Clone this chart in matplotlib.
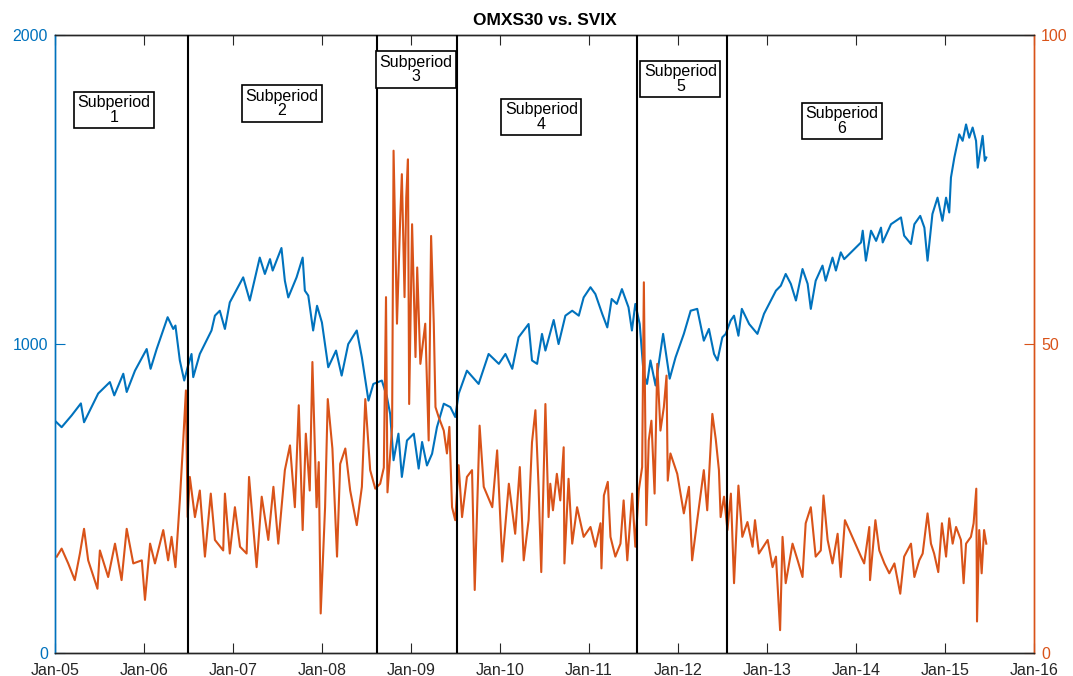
import numpy as np
import matplotlib
matplotlib.use('Agg')
import matplotlib.pyplot as plt
import matplotlib.dates as mdates
import pandas as pd

plt.rcParams['font.family'] = ['Liberation Sans', 'DejaVu Sans']

# OMXS30 index level (left axis)
omx_dates = [
    '2005-01-03', '2005-01-28', '2005-03-10', '2005-04-17', '2005-04-30', '2005-06-27', '2005-08-14',
    '2005-09-01', '2005-10-08', '2005-10-22', '2005-11-25', '2006-01-12', '2006-01-28', '2006-02-22',
    '2006-04-08', '2006-05-01', '2006-05-10', '2006-05-28', '2006-06-15', '2006-06-29', '2006-07-15',
    '2006-07-22', '2006-08-18', '2006-10-05', '2006-10-19', '2006-11-08', '2006-11-29', '2006-12-19',
    '2007-02-12', '2007-03-11', '2007-04-21', '2007-05-12', '2007-06-02', '2007-06-13', '2007-07-19',
    '2007-08-02', '2007-08-16', '2007-09-19', '2007-10-14', '2007-10-23', '2007-11-06', '2007-11-26',
    '2007-12-12', '2008-01-01', '2008-01-27', '2008-02-28', '2008-03-22', '2008-04-18', '2008-05-23',
    '2008-06-13', '2008-07-10', '2008-07-30', '2008-09-03', '2008-09-24', '2008-10-07', '2008-10-21',
    '2008-11-10', '2008-11-24', '2008-12-15', '2009-01-12', '2009-02-01', '2009-02-15', '2009-03-07',
    '2009-03-28', '2009-04-17', '2009-05-15', '2009-06-11', '2009-07-01', '2009-07-15', '2009-08-18',
    '2009-10-05', '2009-11-15', '2009-12-27', '2010-01-23', '2010-02-20', '2010-03-18', '2010-04-28',
    '2010-05-12', '2010-06-02', '2010-06-22', '2010-07-06', '2010-08-09', '2010-08-29', '2010-09-26',
    '2010-10-24', '2010-11-20', '2010-12-10', '2011-01-07', '2011-01-27', '2011-02-24', '2011-03-17',
    '2011-04-04', '2011-04-25', '2011-05-16', '2011-06-12', '2011-06-26', '2011-07-10', '2011-07-28',
    '2011-08-13', '2011-08-27', '2011-09-10', '2011-10-01', '2011-11-01', '2011-11-28', '2011-12-22',
    '2012-01-25', '2012-02-22', '2012-03-20', '2012-04-16', '2012-05-07', '2012-05-28', '2012-06-11',
    '2012-07-01', '2012-07-15', '2012-08-04', '2012-08-18', '2012-09-05', '2012-09-19', '2012-10-19',
    '2012-11-22', '2012-12-19', '2013-01-09', '2013-02-06', '2013-02-26', '2013-03-18', '2013-04-08',
    '2013-04-29', '2013-05-26', '2013-06-16', '2013-06-29', '2013-07-19', '2013-08-16', '2013-08-29',
    '2013-09-26', '2013-10-10', '2013-10-30', '2013-11-13', '2014-01-21', '2014-01-28', '2014-02-10',
    '2014-03-03', '2014-03-24', '2014-04-13', '2014-04-20', '2014-05-24', '2014-07-04', '2014-07-17',
    '2014-08-14', '2014-08-28', '2014-09-21', '2014-10-08', '2014-10-21', '2014-11-10', '2014-12-01',
    '2014-12-21', '2015-01-05', '2015-01-18', '2015-01-25', '2015-02-08', '2015-02-28', '2015-03-14',
    '2015-03-28', '2015-04-10', '2015-04-24', '2015-05-08', '2015-05-15', '2015-05-25', '2015-06-04',
    '2015-06-13', '2015-06-19']
omx_vals = [
    750, 731, 769, 808, 747, 840, 877,
    834, 904, 845, 914, 984, 920, 984,
    1087, 1049, 1060, 947, 882, 925, 968,
    893, 968, 1044, 1092, 1108, 1049, 1135,
    1216, 1141, 1280, 1227, 1275, 1238, 1311,
    1205, 1151, 1216, 1280, 1173, 1157, 1044,
    1124, 1070, 925, 979, 898, 1000, 1044,
    957, 817, 871, 882, 828, 774, 624,
    710, 570, 688, 710, 597, 683, 607,
    645, 731, 807, 796, 764, 839, 914,
    871, 968, 936, 968, 920, 1022, 1065,
    947, 936, 1033, 979, 1078, 1000, 1092,
    1108, 1092, 1151, 1184, 1162, 1098, 1054,
    1146, 1130, 1178, 1119, 1044, 1130, 1065,
    904, 871, 947, 866, 1033, 888, 957,
    1033, 1108, 1114, 1011, 1049, 968, 947,
    1022, 1033, 1076, 1092, 1027, 1114, 1065,
    1033, 1098, 1130, 1173, 1189, 1227, 1195,
    1141, 1243, 1195, 1114, 1205, 1254, 1205,
    1280, 1238, 1297, 1275, 1329, 1367, 1270,
    1367, 1334, 1377, 1329, 1388, 1410, 1351,
    1324, 1388, 1415, 1377, 1270, 1421, 1474,
    1399, 1474, 1426, 1539, 1604, 1679, 1658,
    1711, 1668, 1701, 1658, 1571, 1625, 1674,
    1593, 1604]

# SVIX volatility index (right axis)
svix_dates = [
    '2005-01-08', '2005-01-28', '2005-02-24', '2005-03-23', '2005-04-13', '2005-04-30', '2005-05-17',
    '2005-06-24', '2005-07-04', '2005-08-07', '2005-09-04', '2005-10-01', '2005-10-22', '2005-11-18',
    '2005-12-23', '2006-01-05', '2006-01-26', '2006-02-15', '2006-03-21', '2006-04-10', '2006-04-24',
    '2006-05-10', '2006-05-28', '2006-06-11', '2006-06-22', '2006-06-29', '2006-07-08', '2006-07-29',
    '2006-08-18', '2006-09-08', '2006-10-02', '2006-10-19', '2006-11-22', '2006-11-29', '2006-12-19',
    '2007-01-09', '2007-01-30', '2007-02-26', '2007-03-08', '2007-04-08', '2007-04-29', '2007-05-26',
    '2007-06-16', '2007-07-06', '2007-08-02', '2007-08-23', '2007-09-12', '2007-09-28', '2007-10-14',
    '2007-10-27', '2007-11-12', '2007-11-23', '2007-12-10', '2007-12-19', '2007-12-27', '2008-01-14',
    '2008-01-25', '2008-02-13', '2008-03-03', '2008-03-16', '2008-04-06', '2008-04-26', '2008-05-23',
    '2008-06-13', '2008-06-27', '2008-07-17', '2008-08-07', '2008-08-27', '2008-09-11', '2008-09-20',
    '2008-09-26', '2008-10-15', '2008-10-21', '2008-11-04', '2008-11-17', '2008-11-24', '2008-12-05',
    '2008-12-12', '2008-12-19', '2008-12-24', '2009-01-05', '2009-01-19', '2009-01-26', '2009-02-08',
    '2009-02-28', '2009-03-14', '2009-03-24', '2009-04-04', '2009-04-11', '2009-04-24', '2009-05-15',
    '2009-05-28', '2009-06-07', '2009-06-18', '2009-07-01', '2009-07-15', '2009-07-29', '2009-08-18',
    '2009-09-08', '2009-09-19', '2009-10-09', '2009-10-26', '2009-11-30', '2009-12-20', '2010-01-10',
    '2010-02-06', '2010-03-04', '2010-03-23', '2010-04-08', '2010-04-28', '2010-05-12', '2010-05-26',
    '2010-06-08', '2010-06-19', '2010-07-06', '2010-07-19', '2010-07-26', '2010-08-06', '2010-08-22',
    '2010-09-05', '2010-09-19', '2010-09-22', '2010-10-09', '2010-10-24', '2010-11-13', '2010-12-10',
    '2011-01-07', '2011-01-27', '2011-02-17', '2011-02-21', '2011-03-03', '2011-03-19', '2011-03-30',
    '2011-04-19', '2011-05-10', '2011-05-23', '2011-06-07', '2011-06-27', '2011-07-10', '2011-07-24',
    '2011-08-07', '2011-08-14', '2011-08-24', '2011-09-03', '2011-09-14', '2011-09-27', '2011-10-08',
    '2011-10-21', '2011-11-04', '2011-11-15', '2011-11-20', '2011-12-01', '2011-12-29', '2012-01-25',
    '2012-02-15', '2012-02-28', '2012-03-20', '2012-04-16', '2012-04-30', '2012-05-21', '2012-06-04',
    '2012-06-17', '2012-06-24', '2012-07-08', '2012-07-22', '2012-08-05', '2012-08-18', '2012-09-05',
    '2012-09-21', '2012-10-12', '2012-11-02', '2012-11-12', '2012-11-28', '2013-01-03', '2013-01-23',
    '2013-02-06', '2013-02-23', '2013-03-05', '2013-03-18', '2013-04-15', '2013-05-06', '2013-05-26',
    '2013-06-08', '2013-06-29', '2013-07-19', '2013-08-09', '2013-08-20', '2013-09-06', '2013-09-26',
    '2013-10-17', '2013-10-30', '2013-11-16', '2014-01-21', '2014-02-03', '2014-02-24', '2014-02-27',
    '2014-03-21', '2014-04-06', '2014-04-27', '2014-05-17', '2014-06-07', '2014-07-01', '2014-07-17',
    '2014-08-14', '2014-08-28', '2014-09-17', '2014-10-01', '2014-10-21', '2014-11-04', '2014-11-17',
    '2014-12-04', '2014-12-19', '2015-01-05', '2015-01-18', '2015-02-01', '2015-02-15', '2015-03-07',
    '2015-03-18', '2015-03-28', '2015-04-17', '2015-04-28', '2015-05-09', '2015-05-12', '2015-05-21',
    '2015-05-31', '2015-06-10', '2015-06-19']
svix_vals = [
    15.6, 16.9, 14.5, 11.8, 16.1, 20.1, 15.0,
    10.4, 16.6, 12.3, 17.7, 11.8, 20.1, 14.5,
    15.0, 8.6, 17.7, 14.5, 19.9, 15.0, 18.8,
    13.9, 24.7, 34.4, 42.5, 22.0, 28.5, 22.0,
    26.3, 15.6, 25.8, 18.3, 16.6, 25.8, 16.1,
    23.6, 17.2, 16.1, 28.5, 13.9, 25.3, 18.3,
    26.9, 17.7, 29.6, 33.6, 23.6, 40.1, 19.9,
    35.5, 26.3, 47.1, 23.6, 30.9, 6.4, 23.6,
    41.1, 33.1, 15.6, 30.6, 33.1, 26.3, 20.7,
    26.9, 41.1, 29.6, 26.6, 27.4, 30.0, 57.6,
    26.0, 36.6, 81.3, 53.3, 70.0, 77.5, 57.6,
    73.7, 79.9, 40.3, 69.4, 47.9, 62.4, 46.8,
    53.3, 34.4, 67.5, 53.3, 39.8, 38.2, 36.0,
    32.3, 36.6, 23.6, 21.5, 30.4, 22.0, 28.5,
    29.6, 10.2, 36.8, 26.9, 23.6, 32.8, 14.8,
    27.4, 19.3, 30.1, 15.0, 21.5, 34.1, 39.3,
    26.9, 13.1, 40.3, 22.0, 27.4, 23.1, 29.0,
    24.7, 33.3, 14.5, 28.2, 17.7, 23.6, 18.8,
    20.4, 17.2, 21.0, 13.7, 25.5, 27.7, 18.8,
    15.6, 17.7, 24.7, 15.0, 25.8, 17.2, 26.3,
    30.1, 60.0, 20.7, 34.4, 37.6, 25.8, 46.8,
    36.0, 39.8, 44.9, 27.9, 32.3, 29.0, 22.6,
    26.9, 15.0, 21.5, 29.6, 23.1, 38.7, 34.6,
    29.6, 22.0, 25.3, 19.9, 25.8, 11.3, 27.1,
    18.8, 21.2, 17.2, 21.5, 16.1, 18.3, 13.9,
    15.6, 3.7, 18.8, 11.3, 17.7, 15.0, 12.3,
    21.0, 23.6, 15.6, 16.6, 25.5, 18.3, 14.5,
    19.3, 12.3, 21.5, 15.6, 14.5, 20.4, 11.8,
    21.5, 16.6, 14.5, 12.9, 14.5, 9.6, 15.6,
    17.7, 12.3, 15.0, 16.1, 22.6, 17.7, 16.1,
    13.1, 21.0, 15.6, 21.8, 17.7, 20.4, 18.3,
    11.3, 17.7, 18.8, 21.0, 26.6, 5.1, 19.9,
    12.9, 19.9, 17.7]

# subperiod boundaries and labels
breaks = ['2006-07-01', '2008-08-13', '2009-07-08', '2011-07-17', '2012-07-19']
sub_labels = ['Subperiod\n1', 'Subperiod\n2', 'Subperiod\n3', 'Subperiod\n4', 'Subperiod\n5', 'Subperiod\n6']
sub_pos = [(0.060, 0.879), (0.2317, 0.8895), (0.3684, 0.9447), (0.4967, 0.8678), (0.6387, 0.9291), (0.8039, 0.8608)]

blue = '#0072BD'
orange = '#D95319'
dark = '#262626'

fig = plt.figure(figsize=(10.73, 6.76), dpi=100)
ax = fig.add_axes([0.0513, 0.034, 0.9124, 0.914])
ax2 = ax.twinx()

ax.plot(pd.to_datetime(omx_dates), omx_vals, color=blue, lw=1.5)
ax2.plot(pd.to_datetime(svix_dates), svix_vals, color=orange, lw=1.5)

for b in breaks:
    ax2.axvline(pd.Timestamp(b), color='black', lw=1.5, zorder=4)

for lab, (px, py) in zip(sub_labels, sub_pos):
    ax2.text(px, py, lab, transform=ax2.transAxes, ha='center', va='center', fontsize=11.5,
             linespacing=0.95, zorder=5,
             bbox=dict(boxstyle='square,pad=0.22', fc='white', ec='black', lw=1.2))

ax.set_xlim(pd.Timestamp('2005-01-01'), pd.Timestamp('2016-01-01'))
ax.set_ylim(0, 2000)
ax2.set_ylim(0, 100)
ax.set_yticks([0, 1000, 2000])
ax2.set_yticks([0, 50, 100])
ax.xaxis.set_major_locator(mdates.YearLocator())
ax.xaxis.set_major_formatter(mdates.DateFormatter('%b-%y'))

ax.tick_params(axis='x', direction='in', length=7, top=True, colors=dark, labelsize=11.5, pad=7)
ax.tick_params(axis='y', direction='in', length=7, colors=blue, labelsize=11.5, pad=5)
ax2.tick_params(axis='y', direction='in', length=7, colors=orange, labelsize=11.5, pad=5)

for a in (ax, ax2):
    a.spines['top'].set_color(dark)
    a.spines['bottom'].set_color(dark)
    a.spines['left'].set_color(blue)
    a.spines['right'].set_color(orange)
    for s in a.spines.values():
        s.set_linewidth(1.0)

ax.set_title('OMXS30 vs. SVIX', fontsize=12.5, fontweight='bold', pad=7)

fig.savefig('out.png', dpi=100)
